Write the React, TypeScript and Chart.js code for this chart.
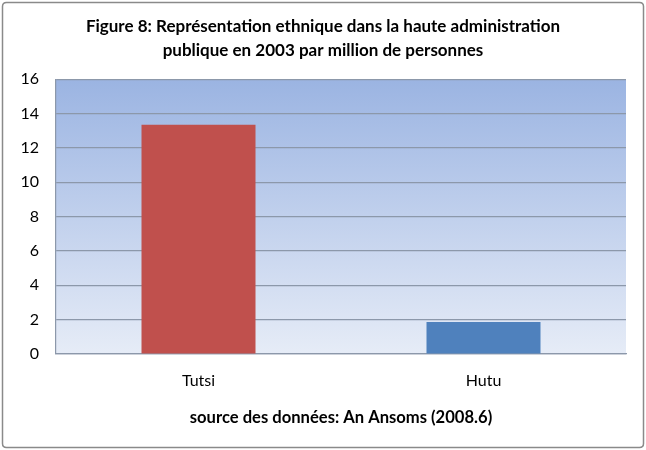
import React, { useEffect, useRef } from "react";
import { Chart, registerables } from "chart.js";

Chart.register(...registerables);

const categories = ["Tutsi", "Hutu"];
const values = [13.35, 1.87];
const barColors = ["#C0504D", "#4F81BD"];
const titleLines = [
  "Figure 8: Représentation ethnique dans la haute administration",
  "publique en 2003 par million de personnes",
];
const xAxisTitle = "source des données: An Ansoms (2008.6)";
const yMin = 0;
const yMax = 16;
const yStep = 2;

const FONT = "Lato, 'Open Sans', 'Noto Sans', sans-serif";

const framePlugin = {
  id: "framePlugin",
  beforeDraw(chart: any) {
    const { ctx, chartArea, width, height } = chart;
    ctx.save();
    ctx.fillStyle = "#ffffff";
    ctx.fillRect(0, 0, width, height);
    ctx.strokeStyle = "#8a8a8a";
    ctx.lineWidth = 1.5;
    const x0 = 2.5, y0 = 2.5, x1 = width - 2.5, y1 = height - 2.5, r = 4;
    ctx.beginPath();
    ctx.moveTo(x0 + r, y0);
    ctx.lineTo(x1 - r, y0);
    ctx.quadraticCurveTo(x1, y0, x1, y0 + r);
    ctx.lineTo(x1, y1 - r);
    ctx.quadraticCurveTo(x1, y1, x1 - r, y1);
    ctx.lineTo(x0 + r, y1);
    ctx.quadraticCurveTo(x0, y1, x0, y1 - r);
    ctx.lineTo(x0, y0 + r);
    ctx.quadraticCurveTo(x0, y0, x0 + r, y0);
    ctx.stroke();
    const g = ctx.createLinearGradient(0, chartArea.top, 0, chartArea.bottom);
    g.addColorStop(0, "rgb(155,180,226)");
    g.addColorStop(1, "rgb(230,236,247)");
    ctx.fillStyle = g;
    ctx.fillRect(chartArea.left, chartArea.top, chartArea.right - chartArea.left, chartArea.bottom - chartArea.top);
    ctx.restore();
  },
};

export default function App() {
  const ref = useRef<HTMLCanvasElement | null>(null);
  useEffect(() => {
    document.body.style.margin = "0";
    if (!ref.current) return;
    const chart = new Chart(ref.current, {
      type: "bar",
      data: {
        labels: categories,
        datasets: [
          {
            data: values,
            backgroundColor: barColors,
            categoryPercentage: 1,
            barPercentage: 0.4,
          },
        ],
      },
      options: {
        animation: false,
        responsive: false,
        maintainAspectRatio: false,
        layout: { padding: { left: 0, right: 0, top: 0, bottom: 0 } },
        plugins: {
          legend: { display: false },
          tooltip: { enabled: false },
          title: {
            display: true,
            text: titleLines,
            color: "#000000",
            font: { family: FONT, size: 17, weight: "bold", lineHeight: 1.42 },
            padding: { top: 14, bottom: 17 },
          },
        },
        scales: {
          x: {
            grid: { display: false, drawTicks: false },
            border: { display: true, color: "#8c98aa", width: 1.2 },
            ticks: { color: "#000000", font: { family: FONT, size: 16 }, padding: 17 },
            title: {
              display: true,
              text: xAxisTitle,
              color: "#000000",
              font: { family: FONT, size: 16.6, weight: "bold", lineHeight: 1.2 },
              padding: { top: 0, bottom: 22 },
            },
            afterFit(scale: any) {
              scale.height = 96;
            },
          },
          y: {
            min: yMin,
            max: yMax,
            grid: { color: "#8c98aa", lineWidth: 1.2, drawTicks: false },
            border: { display: true, color: "#8c98aa", width: 1.2 },
            ticks: { stepSize: yStep, color: "#000000", font: { family: FONT, size: 16 }, padding: 17 },
            afterFit(scale: any) {
              scale.width = 56;
            },
          },
          yRight: {
            type: "linear",
            position: "right",
            min: yMin,
            max: yMax,
            grid: { display: false, drawOnChartArea: false, drawTicks: false },
            border: { display: false },
            ticks: { display: false },
            afterFit(scale: any) {
              scale.width = 20;
            },
          },
        },
      },
      plugins: [framePlugin],
    });
    return () => chart.destroy();
  }, []);
  return <canvas ref={ref} width={646} height={450} style={{ display: "block" }} />;
}
